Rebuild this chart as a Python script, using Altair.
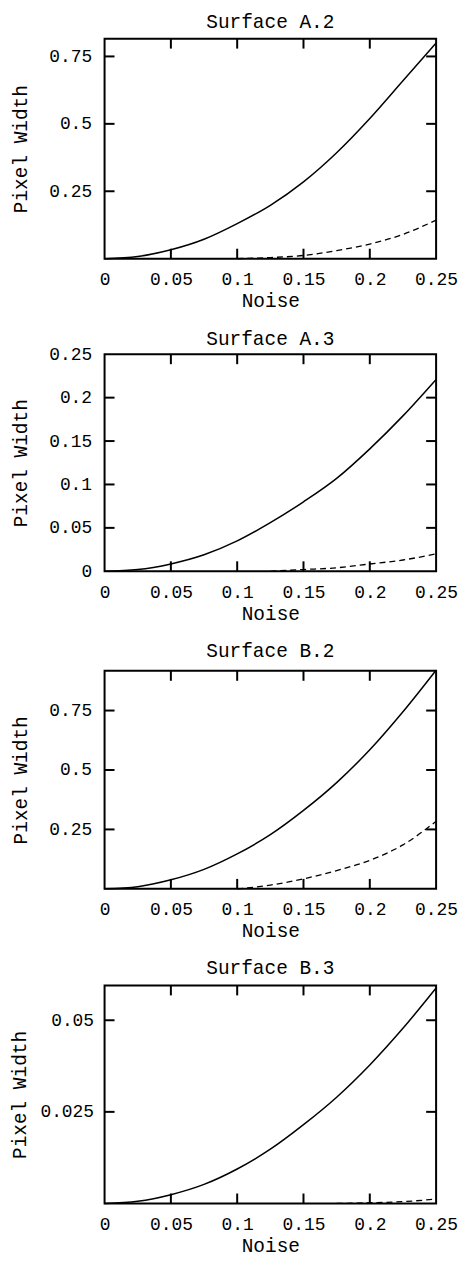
import altair as alt
import pandas as pd

# ---- data ----
titles = ["Surface A.2", "Surface A.3", "Surface B.2", "Surface B.3"]
y_max = [0.816, 0.25, 0.917, 0.0595]
y_label_values = [[0.25, 0.5, 0.75], [0, 0.05, 0.1, 0.15, 0.2, 0.25], [0.25, 0.5, 0.75], [0.025, 0.05]]
y_tick_values = [[0.25, 0.5, 0.75], [0.05, 0.1, 0.15, 0.2], [0.25, 0.5, 0.75], [0.025, 0.05]]
x_label_values = [0, 0.05, 0.1, 0.15, 0.2, 0.25]
x_tick_values = [0.05, 0.1, 0.15, 0.2]

solid_x = [0, 0.025, 0.05, 0.075, 0.1, 0.125, 0.15, 0.175, 0.2, 0.225, 0.25]
a2_solid = [0, 0.008, 0.033, 0.072, 0.13, 0.198, 0.285, 0.393, 0.52, 0.66, 0.80]
a3_solid = [0, 0.002, 0.0085, 0.019, 0.035, 0.056, 0.080, 0.107, 0.141, 0.179, 0.221]
b2_solid = [0, 0.009, 0.038, 0.082, 0.147, 0.228, 0.33, 0.447, 0.585, 0.745, 0.92]
b3_solid = [0, 0.0006, 0.0024, 0.0052, 0.0094, 0.0148, 0.0215, 0.0290, 0.0378, 0.0478, 0.0588]

a2_dash_x = [0.1, 0.125, 0.15, 0.175, 0.2, 0.225, 0.25]
a2_dash = [0, 0.004, 0.012, 0.03, 0.054, 0.09, 0.143]
a3_dash_x = [0.125, 0.15, 0.175, 0.2, 0.225, 0.25]
a3_dash = [0, 0.002, 0.004, 0.0084, 0.013, 0.020]
b2_dash_x = [0.1, 0.125, 0.15, 0.175, 0.2, 0.225, 0.25]
b2_dash = [0, 0.016, 0.042, 0.077, 0.12, 0.185, 0.284]
b3_dash_x = [0.175, 0.2, 0.225, 0.25]
b3_dash = [0, 0.0002, 0.0005, 0.0012]

solids = [a2_solid, a3_solid, b2_solid, b3_solid]
dash_xs = [a2_dash_x, a3_dash_x, b2_dash_x, b3_dash_x]
dashes = [a2_dash, a3_dash, b2_dash, b3_dash]

# ---- layout (style) ----
widths = [333, 333, 333, 333]
heights = [221, 218, 219, 219]
title_offsets = [5.5, -4, 5.5, 5.5]
y_label_pad = [13, 13, 13, 11]
y_title_pad = [18, 18, 18, 10]
TICK = 10
FONT = "Liberation Mono"


def panel(i):
    W, H = widths[i], heights[i]
    xs = alt.Scale(domain=[0, 0.25], nice=False, zero=False)
    ys = alt.Scale(domain=[0, y_max[i]], nice=False, zero=False)
    xax = alt.Axis(values=x_label_values, labelExpr="datum.value + ''", ticks=False, tickSize=0,
                   domain=False, grid=False, labelFlush=False, labelOverlap=False, labelPadding=12,
                   title="Noise", titlePadding=3)
    yax = alt.Axis(values=y_label_values[i], labelExpr="datum.value + ''", ticks=False, tickSize=0,
                   domain=False, grid=False, labelOverlap=False, labelPadding=y_label_pad[i],
                   title="Pixel Width", titlePadding=y_title_pad[i])

    solid_df = pd.DataFrame({"noise": solid_x, "pw": solids[i]})
    dash_df = pd.DataFrame({"noise": dash_xs[i], "pw": dashes[i]})
    xt = pd.DataFrame({"noise": x_tick_values})
    yt = pd.DataFrame({"pw": y_tick_values[i]})

    solid = alt.Chart(solid_df).mark_line(
        color="black", strokeWidth=1.5, interpolate="monotone"
    ).encode(x=alt.X("noise:Q", scale=xs, axis=xax), y=alt.Y("pw:Q", scale=ys, axis=yax))
    dash = alt.Chart(dash_df).mark_line(
        color="black", strokeWidth=1.3, strokeDash=[6, 4], interpolate="monotone"
    ).encode(x="noise:Q", y="pw:Q")
    xt_top = alt.Chart(xt).mark_rule(color="black", strokeWidth=2).encode(
        x="noise:Q", y=alt.value(0), y2=alt.value(TICK))
    xt_bot = alt.Chart(xt).mark_rule(color="black", strokeWidth=2).encode(
        x="noise:Q", y=alt.value(H - TICK), y2=alt.value(H))
    yt_left = alt.Chart(yt).mark_rule(color="black", strokeWidth=2).encode(
        y="pw:Q", x=alt.value(0), x2=alt.value(TICK))
    yt_right = alt.Chart(yt).mark_rule(color="black", strokeWidth=2).encode(
        y="pw:Q", x=alt.value(W - TICK), x2=alt.value(W))

    return alt.layer(solid, dash, xt_top, xt_bot, yt_left, yt_right).properties(
        width=W, height=H,
        title=alt.TitleParams(titles[i], font=FONT, fontSize=19.5, fontWeight="normal",
                              color="black", anchor="middle", frame="group",
                              offset=title_offsets[i]),
    )


chart = alt.vconcat(*[panel(i) for i in range(4)], spacing=16).properties(
    padding={"left": 0, "top": 0, "right": 0, "bottom": 0},
    background="white",
).configure_view(
    stroke="black", strokeWidth=2
).configure_axis(
    labelFont=FONT, labelFontSize=18, labelColor="black",
    titleFont=FONT, titleFontSize=19.5, titleFontWeight="normal", titleColor="black",
)

chart.save("out.html", embed_options={"renderer": "svg", "actions": False})
